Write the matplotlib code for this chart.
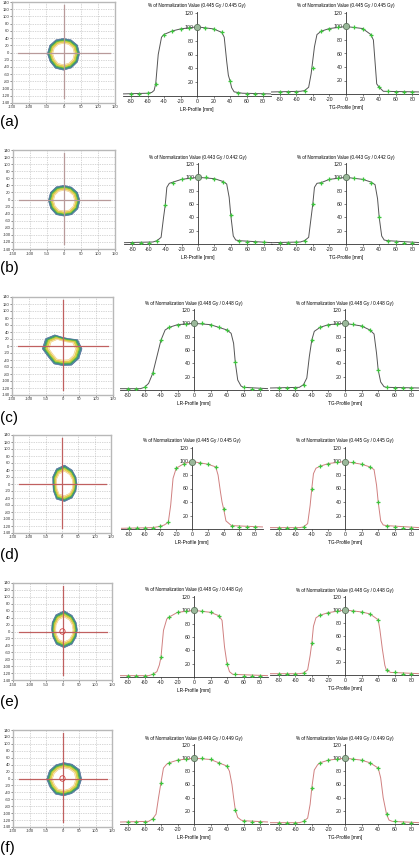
import numpy as np
import matplotlib
matplotlib.use("Agg")
import matplotlib.pyplot as plt

plt.rcParams["axes.unicode_minus"] = False
plt.rcParams["font.family"] = ["Liberation Sans", "DejaVu Sans"]

W, H = 419, 861
fig = plt.figure(figsize=(W / 100, H / 100), dpi=100)
fig.patch.set_facecolor("white")

# ---------------- data ----------------
panel_labels = ["(a)", "(b)", "(c)", "(d)", "(e)", "(f)"]
titles = [
    "% of Normalization Value (0.445 Gy / 0.445 Gy)",
    "% of Normalization Value (0.443 Gy / 0.442 Gy)",
    "% of Normalization Value (0.448 Gy / 0.448 Gy)",
    "% of Normalization Value (0.445 Gy / 0.445 Gy)",
    "% of Normalization Value (0.448 Gy / 0.448 Gy)",
    "% of Normalization Value (0.449 Gy / 0.449 Gy)",
]
pts_x = [-80, -70, -60, -50, -40, -30, -20, -10, 0, 10, 20, 30, 40, 50, 60, 70, 80]

a_lr_pts = [3, 3, 5, 18, 88, 94, 97, 99, 100, 99, 97, 92, 22, 5, 3, 3, 3]
a_lr_lx = [-90, -60, -55, -52, -50, -47, -43, -40, -30, -20, 0, 20, 30, 33, 36, 38, 40, 42, 45, 50, 55, 90]
a_lr_ly = [3, 4, 5, 8, 18, 60, 85, 89, 94, 97, 100, 97, 92, 85, 50, 30, 22, 12, 6, 5, 4, 3]
a_tg_pts = [3, 3, 3, 5, 38, 93, 97, 99, 100, 99, 97, 87, 10, 4, 3, 3, 3]
a_tg_lx = [-90, -55, -50, -45, -42, -40, -38, -35, -30, -20, 0, 20, 30, 33, 37, 40, 45, 90]
a_tg_ly = [3, 4, 5, 10, 30, 50, 70, 88, 93, 97, 100, 97, 88, 80, 15, 10, 4, 3]

b_lr_pts = [2, 2, 2, 5, 58, 92, 97, 99, 100, 100, 97, 93, 43, 5, 3, 3, 3]
b_lr_lx = [-90, -55, -50, -45, -42, -40, -38, -35, -30, -20, 0, 20, 30, 35, 38, 40, 43, 46, 50, 90]
b_lr_ly = [2, 3, 5, 10, 40, 58, 85, 91, 93, 97, 100, 98, 94, 90, 70, 43, 12, 6, 5, 2]
b_tg_pts = [2, 2, 3, 5, 60, 92, 97, 99, 100, 99, 97, 92, 40, 5, 3, 2, 2]
b_tg_lx = [-90, -55, -50, -45, -42, -40, -38, -35, -30, -20, 0, 20, 30, 35, 38, 40, 43, 46, 50, 90]
b_tg_ly = [2, 3, 5, 10, 40, 60, 85, 91, 92, 97, 100, 97, 93, 89, 68, 40, 12, 6, 5, 2]

c_lr_pts = [2, 2, 4, 25, 75, 94, 98, 99, 100, 100, 98, 94, 90, 42, 4, 2, 2]
c_lr_lx = [-90, -65, -60, -55, -50, -45, -40, -35, -30, -20, 0, 20, 30, 40, 45, 48, 50, 53, 57, 60, 90]
c_lr_ly = [2, 2, 4, 10, 25, 50, 75, 90, 94, 98, 100, 98, 94, 90, 85, 70, 42, 15, 6, 4, 2]
c_tg_pts = [3, 3, 3, 8, 75, 94, 98, 99, 100, 99, 96, 90, 30, 4, 3, 3, 3]
c_tg_lx = [-90, -55, -50, -46, -43, -40, -37, -30, -20, 0, 20, 30, 35, 38, 40, 43, 47, 50, 90]
c_tg_ly = [3, 4, 8, 18, 50, 75, 88, 94, 98, 100, 96, 90, 84, 55, 30, 12, 5, 4, 3]

d_lr_pts = [2, 2, 2, 2, 4, 10, 90, 97, 100, 98, 96, 92, 30, 5, 3, 3, 3]
d_lr_lx = [-90, -50, -40, -35, -30, -27, -24, -20, -10, 0, 10, 20, 30, 33, 36, 38, 40, 43, 50, 90]
d_lr_ly = [1, 2, 4, 6, 10, 35, 75, 90, 97, 100, 98, 96, 92, 80, 55, 40, 30, 12, 5, 3]
d_tg_pts = [2, 2, 2, 3, 60, 93, 97, 99, 100, 99, 96, 92, 40, 5, 3, 2, 2]
d_tg_lx = [-90, -55, -50, -45, -42, -40, -38, -35, -30, -20, 0, 20, 30, 35, 38, 40, 43, 46, 50, 90]
d_tg_ly = [2, 2, 3, 8, 35, 60, 82, 90, 93, 97, 100, 96, 92, 88, 65, 40, 12, 6, 5, 2]

e_lr_pts = [2, 2, 2, 4, 30, 90, 97, 99, 100, 99, 97, 92, 20, 4, 2, 2, 2]
e_lr_lx = [-90, -55, -50, -45, -42, -40, -37, -33, -30, -20, 0, 20, 30, 34, 37, 40, 43, 47, 90]
e_lr_ly = [2, 2, 4, 8, 18, 30, 70, 87, 90, 97, 100, 97, 92, 85, 45, 20, 8, 4, 2]
e_tg_pts = [2, 2, 2, 3, 49, 92, 96, 99, 100, 99, 97, 94, 85, 7, 4, 2, 2]
e_tg_lx = [-90, -55, -50, -45, -42, -40, -38, -35, -30, -20, 0, 20, 30, 40, 42, 45, 48, 50, 55, 90]
e_tg_ly = [2, 2, 3, 8, 30, 49, 75, 88, 92, 96, 100, 97, 94, 85, 70, 40, 15, 7, 4, 2]

f_lr_pts = [3, 3, 3, 8, 63, 93, 97, 99, 100, 100, 98, 93, 88, 22, 5, 3, 3]
f_lr_lx = [-90, -55, -50, -46, -43, -40, -37, -33, -30, -20, 0, 20, 30, 40, 43, 46, 48, 50, 53, 57, 60, 90]
f_lr_ly = [3, 4, 8, 15, 40, 63, 85, 91, 93, 97, 100, 98, 93, 88, 80, 60, 40, 22, 10, 6, 5, 3]
f_tg_pts = [2, 2, 2, 4, 55, 93, 97, 99, 100, 99, 97, 93, 85, 15, 4, 2, 2]
f_tg_lx = [-90, -55, -50, -45, -42, -40, -37, -33, -30, -20, 0, 20, 30, 40, 43, 46, 50, 53, 57, 90]
f_tg_ly = [2, 2, 4, 9, 30, 55, 82, 90, 93, 97, 100, 97, 93, 85, 70, 40, 15, 6, 4, 2]

# 2-D dose map outline: radius (mm) of the outer isodose at fixed angles
blob_angles = [0, 30, 60, 90, 120, 150, 180, 210, 240, 270, 300, 330]
a_blob_c = (0, -3)
a_blob_r = [47, 47, 44, 42, 44, 46, 47, 45, 47, 46, 46, 47]
b_blob_c = (0, -3)
b_blob_r = [47, 46, 44, 43, 45, 46, 46, 45, 46, 44, 46, 47]
c_blob_c = (0, -8)
c_blob_r = [58, 52, 34, 33, 46, 58, 60, 48, 50, 48, 54, 56]
d_blob_c = (8, 0)
d_blob_r = [38, 40, 46, 54, 50, 42, 36, 40, 50, 50, 46, 40]
e_blob_c = (5, 5)
e_blob_r = [40, 42, 48, 55, 50, 42, 38, 40, 48, 52, 48, 42]
f_blob_c = (4, -2)
f_blob_r = [54, 55, 50, 48, 48, 50, 52, 48, 50, 48, 48, 52]

rows = [
    dict(lr=(a_lr_pts, a_lr_lx, a_lr_ly), tg=(a_tg_pts, a_tg_lx, a_tg_ly), blob=(a_blob_c, a_blob_r)),
    dict(lr=(b_lr_pts, b_lr_lx, b_lr_ly), tg=(b_tg_pts, b_tg_lx, b_tg_ly), blob=(b_blob_c, b_blob_r)),
    dict(lr=(c_lr_pts, c_lr_lx, c_lr_ly), tg=(c_tg_pts, c_tg_lx, c_tg_ly), blob=(c_blob_c, c_blob_r)),
    dict(lr=(d_lr_pts, d_lr_lx, d_lr_ly), tg=(d_tg_pts, d_tg_lx, d_tg_ly), blob=(d_blob_c, d_blob_r)),
    dict(lr=(e_lr_pts, e_lr_lx, e_lr_ly), tg=(e_tg_pts, e_tg_lx, e_tg_ly), blob=(e_blob_c, e_blob_r)),
    dict(lr=(f_lr_pts, f_lr_lx, f_lr_ly), tg=(f_tg_pts, f_tg_lx, f_tg_ly), blob=(f_blob_c, f_blob_r)),
]

# ---------------- layout (pixels) ----------------
map_boxes = [(12, 2, 115, 103), (13, 150, 115, 249), (12, 297, 113, 395),
             (13, 435, 111, 533), (13, 583, 112, 680), (13, 730, 112, 827)]
label_y = [122, 268, 418, 555, 702, 848]
# (x of zero, px per mm, y of 0 %, y of 120 %)
lr_geom = [(197, 0.825, 96, 13), (198, 0.82, 244, 164), (194, 0.825, 390, 310),
           (192, 0.79, 529, 448), (194, 0.825, 677, 597), (194, 0.825, 824, 745)]
tg_geom = [(346, 0.83, 94, 13), (346, 0.83, 244, 164), (345, 0.83, 390, 310),
           (345, 0.83, 529, 448), (345, 0.83, 675, 597), (345, 0.83, 824, 745)]


def px_axes(l, t, r, b):
    return fig.add_axes([l / W, 1 - b / H, (r - l) / W, (b - t) / H])


level_scale = [1.0, 0.94, 0.88, 0.82, 0.75, 0.67]
level_face = ["#6f90b8", "#3f9f93", "#7fc64a", "#dfe64c", "#f6f2b0", "#ffffff"]
level_edge = ["#3a5a88", "#2f8a70", "#5aa83a", "#c8c83a", "#e8a848", "#f0c880"]


def draw_map(ax, center, radii, cross_color, center_mark):
    ax.set_xlim(-150, 150)
    ax.set_ylim(-140, 140)
    ax.set_xticks(np.arange(-150, 151, 50))
    ax.set_yticks(np.arange(-140, 141, 20))
    ax.grid(True, ls=(0, (1, 1.5)), color="#b0b0b0", lw=0.5)
    ax.tick_params(labelsize=3.0, length=1.2, width=0.4, pad=0.6, colors="#333333")
    for s in ax.spines.values():
        s.set_color("#b8b8b8")
        s.set_linewidth(1.0)
    th = np.deg2rad(np.array(blob_angles + [360]))
    r = np.array(radii + [radii[0]], dtype=float)
    for k, sc in enumerate(level_scale):
        xs = center[0] + sc * r * np.cos(th)
        ys = center[1] + sc * r * np.sin(th)
        ax.fill(xs, ys, facecolor=level_face[k], edgecolor=level_edge[k], lw=0.4, zorder=3)
    ax.plot([-132, 136], [0, 0], color=cross_color, lw=0.9, zorder=4)
    ax.plot([0, 0], [-125, 132], color=cross_color, lw=0.9, zorder=4)
    if center_mark:
        ax.add_patch(plt.Circle((0, 0), 8, fill=False, ec="#d04040", lw=0.6, zorder=5))


def draw_profile(ax, pts, lx, ly, color, title, xlabel):
    ax.set_xlim(-90, 90)
    ax.set_ylim(0, 122)
    ax.plot(lx, ly, color=color, lw=0.7, zorder=3)
    ax.plot(pts_x, pts, ls="none", marker="+", color="#3cc43c", ms=3.2, mew=0.9, zorder=4)
    ax.plot([0], [100], ls="none", marker="o", ms=4.5, mfc="#9ab89a", mec="#506850", mew=0.5, zorder=5)
    for s in ("top", "right"):
        ax.spines[s].set_visible(False)
    ax.spines["left"].set_position(("data", 0))
    ax.spines["bottom"].set_position(("data", 0))
    for s in ("left", "bottom"):
        ax.spines[s].set_color("#333333")
        ax.spines[s].set_linewidth(0.6)
    ax.set_xticks(np.arange(-80, 81, 20))
    ax.set_yticks(np.arange(20, 121, 20))
    ax.tick_params(labelsize=3.8, length=1.5, width=0.4, pad=1, colors="#222222")
    ax.patch.set_alpha(0)
    ax.set_title(title, fontsize=3.3, pad=3)
    ax.set_xlabel(xlabel, fontsize=3.4, labelpad=1.5)


def profile_axes(geom):
    x0, sx, y0, y120 = geom
    sy = (y0 - y120) / 120.0
    l = x0 - 90 * sx
    r = x0 + 90 * sx
    t = y0 - 122 * sy
    return px_axes(l, t, r, y0)


for i, row in enumerate(rows):
    ax = px_axes(*map_boxes[i])
    cross = "#b89a9a" if i < 2 else "#c06060"
    c, rr = row["blob"]
    draw_map(ax, c, rr, cross, center_mark=(i >= 4))
    fig.text(0 / W, 1 - label_y[i] / H, panel_labels[i], fontsize=11, va="center", ha="left")

    line_color = "#555555" if i < 3 else "#d08080"
    axl = profile_axes(lr_geom[i])
    draw_profile(axl, *row["lr"], line_color, titles[i], "LR-Profile [mm]")
    axt = profile_axes(tg_geom[i])
    draw_profile(axt, *row["tg"], line_color, titles[i], "TG-Profile [mm]")

fig.savefig("out.png", dpi=100)
